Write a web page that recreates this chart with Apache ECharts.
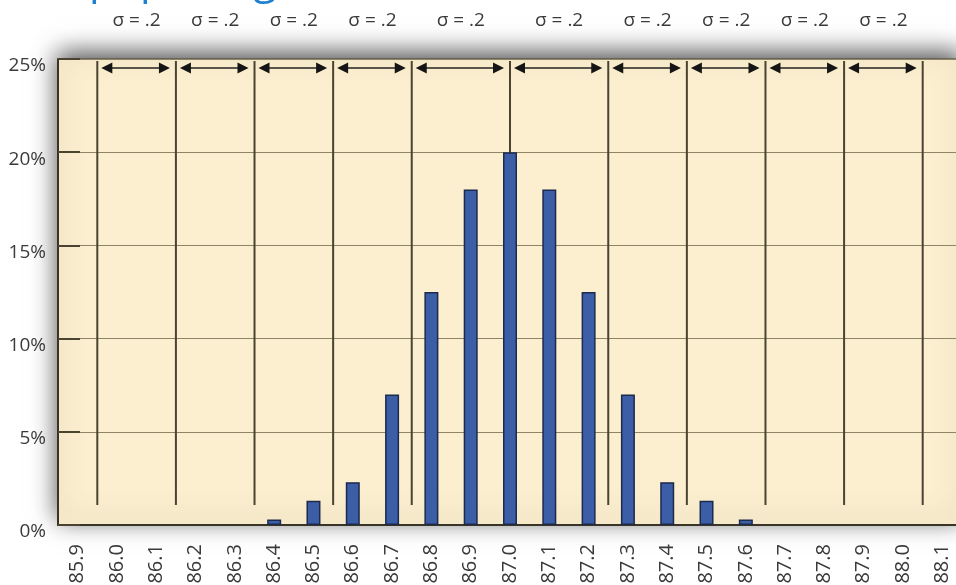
<!DOCTYPE html>
<html>
<head>
<meta charset="utf-8">
<script src="https://cdn.jsdelivr.net/npm/echarts@6/dist/echarts.min.js"></script>
<style>
  html, body { margin: 0; padding: 0; background: #ffffff; }
  #chart { width: 956px; height: 585px; }
</style>
</head>
<body>
<div id="chart"></div>
<script>
// Measured values, grouped in 0.1 bins
const categories = ['85.9', '86.0', '86.1', '86.2', '86.3', '86.4', '86.5', '86.6', '86.7', '86.8', '86.9',
  '87.0', '87.1', '87.2', '87.3', '87.4', '87.5', '87.6', '87.7', '87.8', '87.9', '88.0', '88.1'];
// Percentage of readings in each bin (null = empty bin)
const percentValues = [null, null, null, null, null, 0.3, 1.3, 2.3, 7.0, 12.5, 18.0,
  20.0, 18.0, 12.5, 7.0, 2.3, 1.3, 0.3, null, null, null, null, null];
// Boundaries of the one-sigma bands along the value scale
const sigmaBounds = [85.95, 86.15, 86.35, 86.55, 86.75, 87.0, 87.25, 87.45, 87.65, 87.85, 88.05];
const sigmaLabels = ['σ = .2', 'σ = .2', 'σ = .2', 'σ = .2', 'σ = .2',
  'σ = .2', 'σ = .2', 'σ = .2', 'σ = .2', 'σ = .2'];
// Heading line; it sits mostly above the top edge of the page
const titleLead = 'Data from a ';
const titleText = 'Data from a popular grade,';

const Y_MAX = 25;
const TITLE_FONT = '42px "Open Sans", sans-serif';
const chart = echarts.init(document.getElementById('chart'), null, { renderer: 'canvas' });

const spanData = sigmaLabels.map((t, i) => [sigmaBounds[i], sigmaBounds[i + 1], Y_MAX]);

function textWidth(str, font) {
  const ctx = document.createElement('canvas').getContext('2d');
  ctx.font = font;
  return ctx.measureText(str).width;
}

function renderBandLine(params, api) {
  const top = api.coord([api.value(0), Y_MAX]);
  const base = api.coord([api.value(0), 0]);
  return {
    type: 'line',
    shape: { x1: top[0], y1: top[1] + 2, x2: top[0], y2: base[1] - 20 },
    style: { stroke: '#4a4332', lineWidth: 2 }
  };
}

function renderArrow(params, api) {
  const a = api.coord([api.value(0), Y_MAX]);
  const b = api.coord([api.value(1), Y_MAX]);
  const y = a[1] + 9;
  const x1 = a[0] + 4;
  const x2 = b[0] - 6;
  const head = 11, half = 5.5;
  return {
    type: 'group',
    children: [
      { type: 'line', shape: { x1: x1 + 4, y1: y, x2: x2 - 4, y2: y },
        style: { stroke: '#222222', lineWidth: 1.6 } },
      { type: 'polygon', shape: { points: [[x1, y], [x1 + head, y - half], [x1 + head, y + half]] },
        style: { fill: '#151515' } },
      { type: 'polygon', shape: { points: [[x2, y], [x2 - head, y - half], [x2 - head, y + half]] },
        style: { fill: '#151515' } },
      { type: 'text', style: {
          text: sigmaLabels[params.dataIndex], x: (a[0] + b[0]) / 2, y: a[1] - 38,
          align: 'center', verticalAlign: 'middle',
          fill: '#3a3a3a', font: '19px "Open Sans", sans-serif' } }
    ]
  };
}

const option = {
  animation: false,
  grid: {
    left: 58, right: -6, top: 59, bottom: 60,
    outerBoundsMode: 'none',
    containLabel: false,
    show: true,
    backgroundColor: '#fcefcf',
    borderColor: '#4a4332',
    borderWidth: 1,
    shadowBlur: 24,
    shadowColor: 'rgba(0,0,0,0.7)',
    shadowOffsetY: -6
  },
  xAxis: [
    {
      type: 'category',
      data: categories,
      boundaryGap: true,
      axisLine: { lineStyle: { color: '#3a3426', width: 2 } },
      axisTick: { inside: true, length: 12, lineStyle: { color: '#5a5036', width: 2 } },
      axisLabel: { rotate: 90, margin: 19, fontSize: 20, color: '#3a3a3a', fontFamily: 'Open Sans' }
    },
    { type: 'value', min: 85.85, max: 88.15, show: false }
  ],
  yAxis: {
    type: 'value',
    min: 0, max: Y_MAX, interval: 5,
    axisLine: { show: true, lineStyle: { color: '#3a3426', width: 2 } },
    axisTick: { show: true, inside: true, length: 22, lineStyle: { color: '#4a4332', width: 2 } },
    axisLabel: { formatter: '{value}%', fontSize: 19, color: '#3a3a3a', fontFamily: 'Open Sans',
      margin: 12, verticalAlign: 'top', lineHeight: 14 },
    splitLine: { lineStyle: { color: '#8d8566', width: 1 } }
  },
  series: [
    {
      type: 'custom', xAxisIndex: 1, yAxisIndex: 0, silent: true, z: 1,
      encode: { x: 0, y: 1 },
      data: sigmaBounds.map(v => [v, 0]),
      renderItem: renderBandLine
    },
    {
      type: 'bar', xAxisIndex: 0, z: 3,
      data: percentValues,
      barWidth: 14,
      itemStyle: { color: '#3b5ea6', borderColor: '#1c2a4d', borderWidth: 1.5 }
    },
    {
      type: 'custom', xAxisIndex: 1, yAxisIndex: 0, silent: true, z: 4, clip: false,
      encode: { x: [0, 1], y: 2 },
      data: spanData,
      renderItem: renderArrow
    }
  ],
  graphic: [
    { type: 'text', silent: true,
      style: { text: titleText, x: 89 - textWidth(titleLead, TITLE_FONT), y: -18,
        verticalAlign: 'middle', align: 'left', fill: '#1f7fd1', font: TITLE_FONT } }
  ]
};

chart.setOption(option);
</script>
</body>
</html>
